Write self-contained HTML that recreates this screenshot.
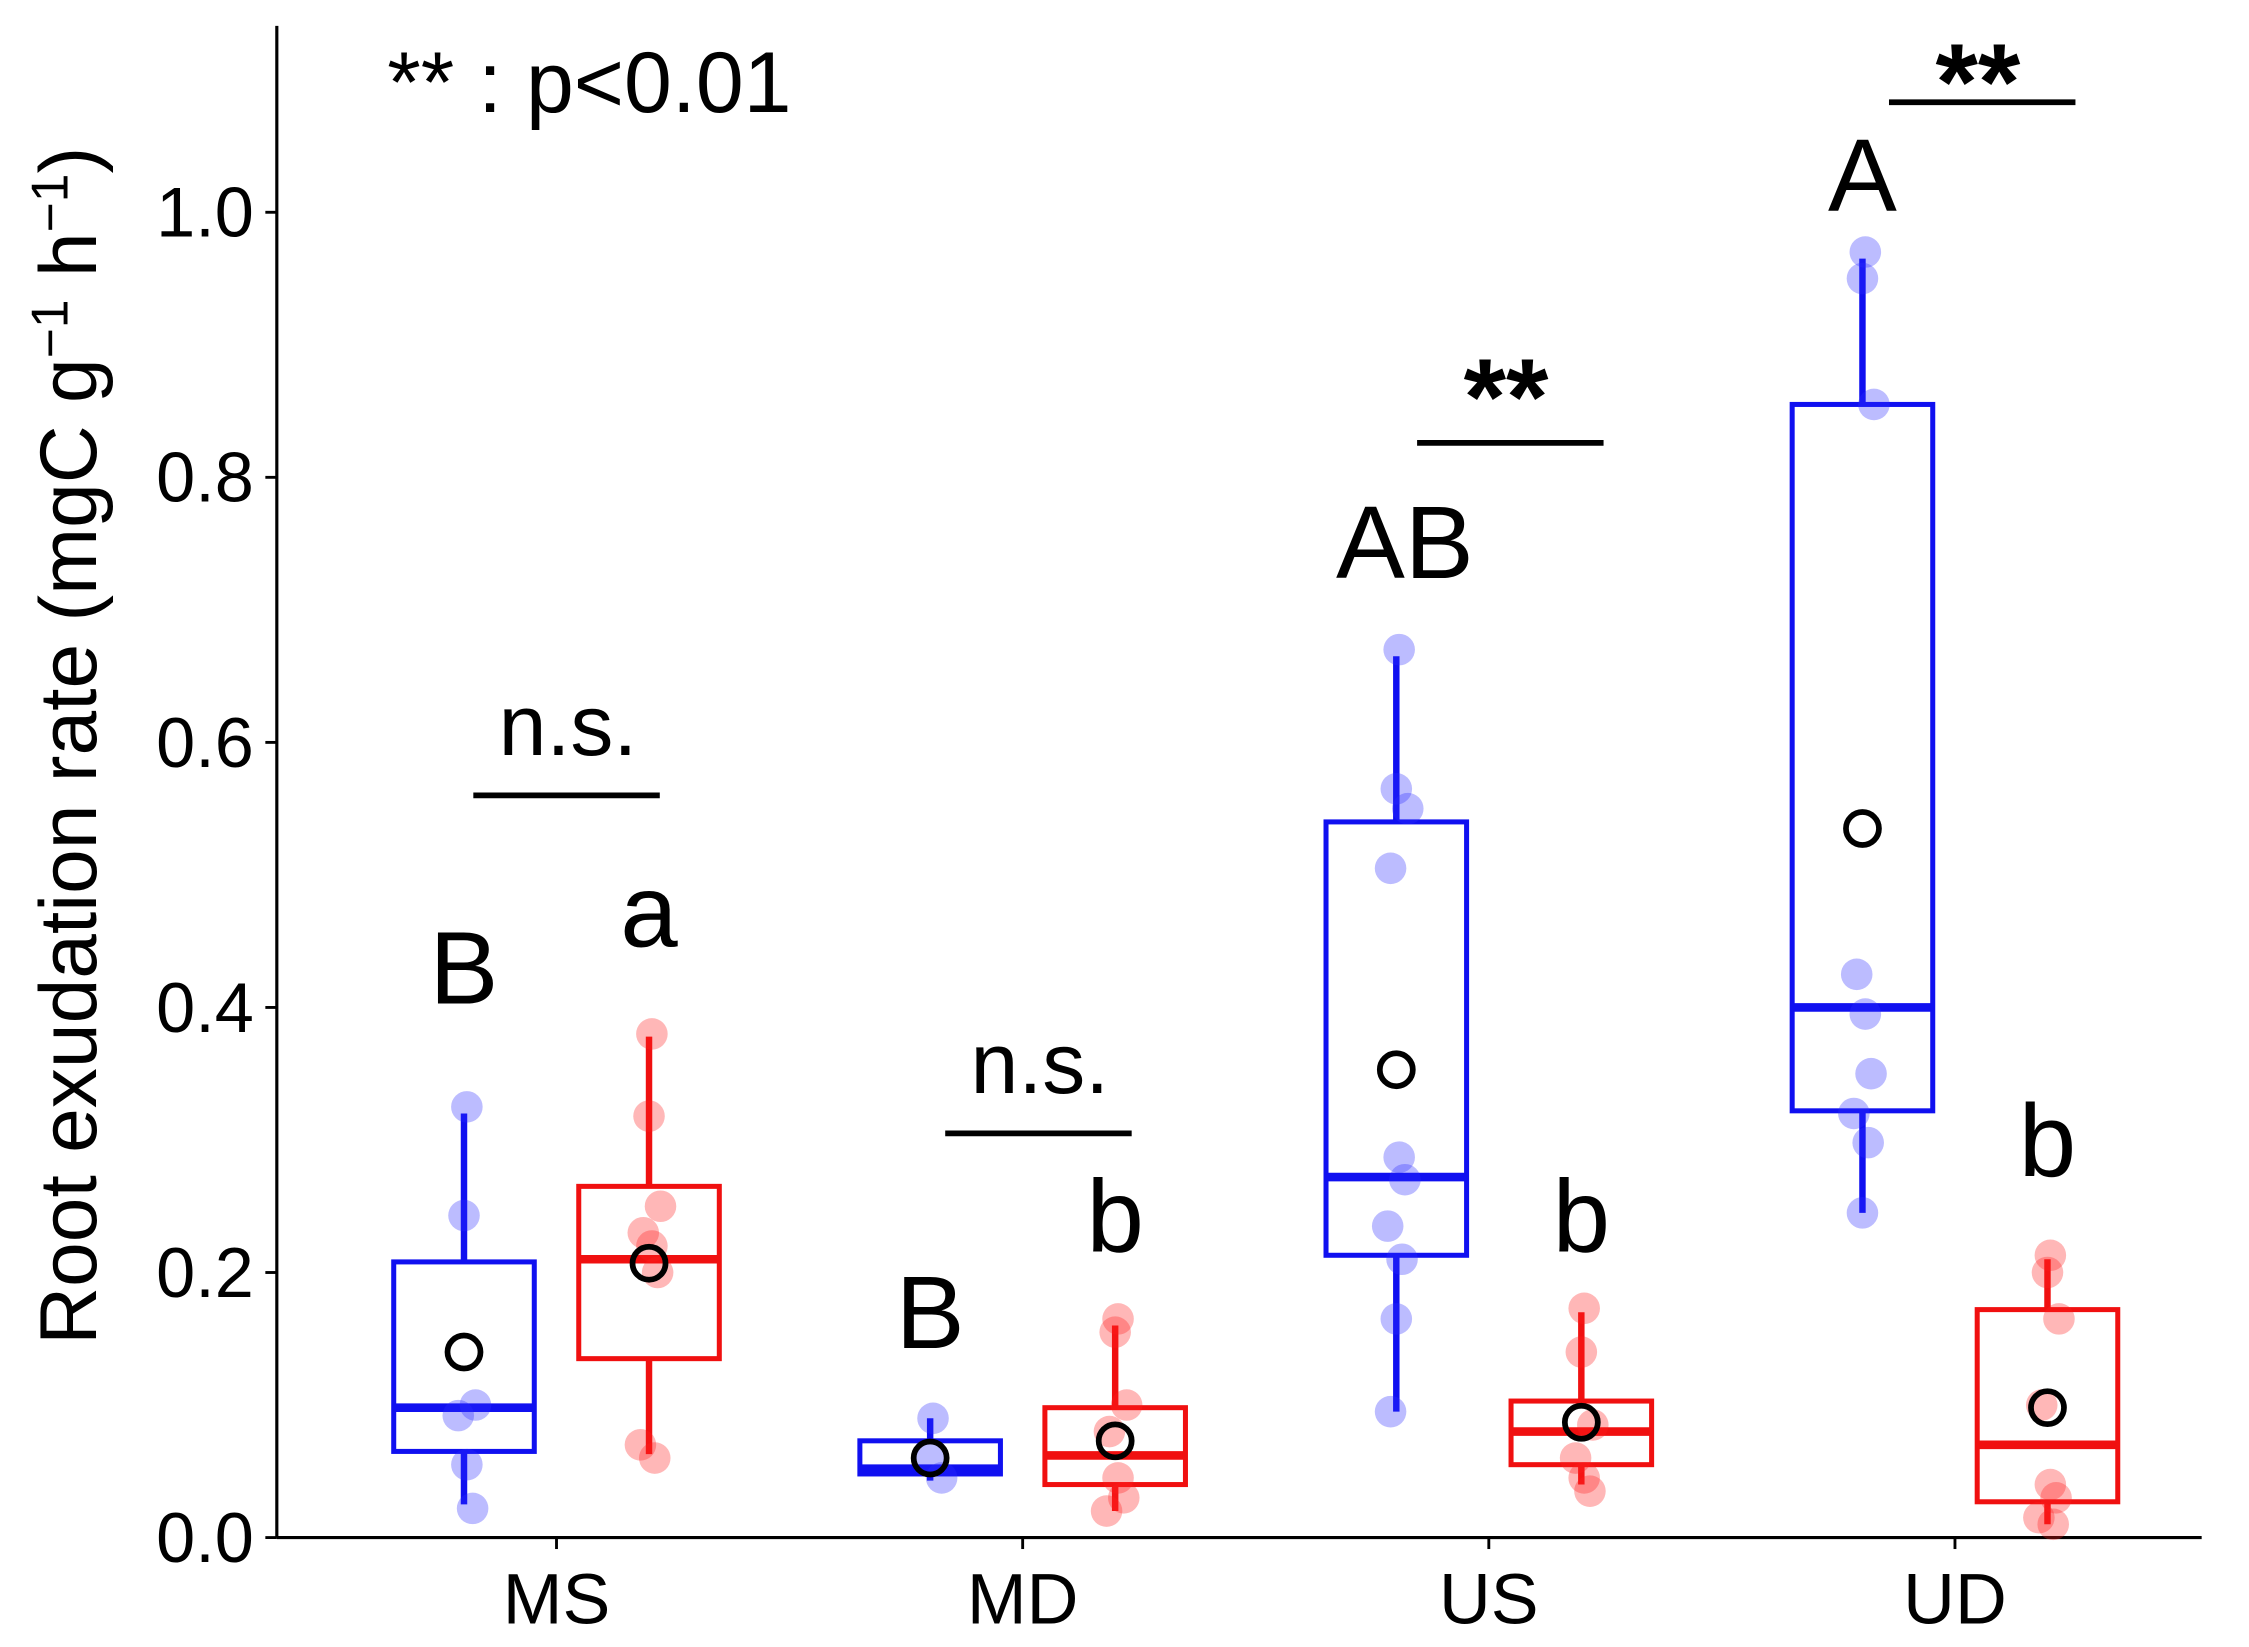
<!DOCTYPE html>
<html><head><meta charset="utf-8"><style>
html,body{margin:0;padding:0;background:#fff;}
svg{display:block;font-family:"Liberation Sans",Arial,sans-serif;}
</style></head><body>
<svg id="chart" width="2249" height="1647" viewBox="0 0 1568 1148.3" preserveAspectRatio="none" xmlns="http://www.w3.org/2000/svg">
<g id="axes"></g>
<g id="marks"></g>
<g id="annot"></g>
</svg>
<script>
const categories = ["MS","MD","US","UD"];
const yTicks = [0,0.2,0.4,0.6,0.8,1.0];
const yTickLabels = ["0.0","0.2","0.4","0.6","0.8","1.0"];
// [whiskerLow, q1, median, q3, whiskerHigh, mean]
const blueStats = [[0.025,0.065,0.098,0.208,0.32,0.14],[0.043,0.048,0.052,0.073,0.09,0.06],[0.095,0.213,0.272,0.54,0.665,0.353],[0.245,0.322,0.4,0.855,0.965,0.535]];
const redStats = [[0.063,0.135,0.21,0.265,0.378,0.207],[0.02,0.04,0.062,0.098,0.16,0.073],[0.04,0.055,0.08,0.103,0.17,0.087],[0.01,0.027,0.07,0.172,0.21,0.098]];
const bluePoints = [[0.325,0.243,0.1,0.092,0.055,0.022],[0.09,0.06,0.045],[0.67,0.565,0.55,0.505,0.287,0.27,0.235,0.21,0.165,0.095],[0.97,0.95,0.855,0.425,0.395,0.35,0.32,0.298,0.245]];
const redPoints = [[0.38,0.318,0.25,0.23,0.22,0.2,0.07,0.06],[0.165,0.155,0.1,0.08,0.045,0.03,0.02],[0.173,0.14,0.085,0.06,0.045,0.035],[0.213,0.2,0.165,0.1,0.04,0.03,0.015,0.01]];
const blueLetters = ["B","B","AB","A"];
const redLetters = ["a","b","b","b"];
const blueLetterLevels = [0.403,0.143,0.724,1.001];
const redLetterLevels = [0.446,0.216,0.216,0.273];
const sigLabels = ["n.s.","n.s.","**","**"];
const sigLevels = [0.56,0.305,0.826,1.083];

const NS="http://www.w3.org/2000/svg";
const X0=193, X1=1535, Y0=1072, YTOP=18;
const y = v => Y0 - v*924;
const x = i => 388 + i*325;
const DODGE=64.5, BW=98;
function el(parent,tag,attrs){const e=document.createElementNS(NS,tag);for(const k in attrs)e.setAttribute(k,attrs[k]);parent.appendChild(e);return e;}
const axes=document.getElementById('axes'), marks=document.getElementById('marks'), annot=document.getElementById('annot');

let a=el(axes,'line',{x1:X0,y1:YTOP,x2:X0,y2:Y0,stroke:'#000','stroke-width':2.2});

a=el(axes,'line',{x1:X0,y1:Y0,x2:X1,y2:Y0,stroke:'#000','stroke-width':2.2});

yTicks.forEach((v,i)=>{
  const t=el(axes,'line',{x1:X0-8,y1:y(v),x2:X0,y2:y(v),stroke:'#000','stroke-width':2});
  
  const l=el(axes,'text',{x:X0-16,y:y(v)+17,'text-anchor':'end','font-size':49,fill:'#000'});
  l.textContent=yTickLabels[i];
  
});
categories.forEach((c,i)=>{
  const t=el(axes,'line',{x1:x(i),y1:Y0,x2:x(i),y2:Y0+8,stroke:'#000','stroke-width':2});
  
  const l=el(axes,'text',{x:x(i),y:Y0+60,'text-anchor':'middle','font-size':50,fill:'#000'});
  l.textContent=c;
  
});
const yt=el(axes,'text',{x:0,y:0,'text-anchor':'middle','font-size':56,fill:'#000',transform:'translate(67,520) rotate(-90)'});
yt.innerHTML='Root exudation rate (mgC g<tspan dy="-20" font-size="36">−1</tspan><tspan dy="20"> h</tspan><tspan dy="-20" font-size="36">−1</tspan><tspan dy="20">)</tspan>';


const jitter=[2,0,8,-4,2,6,-6,4,0,-4];
function drawBox(cx,s,pts,color,fillPt,name){
  const g=el(marks,'g',{});
  
  let w=el(g,'line',{x1:cx,y1:y(s[0]),x2:cx,y2:y(s[4]),stroke:color,'stroke-width':4.5});
  
  let r=el(g,'rect',{x:cx-BW/2,y:y(s[3]),width:BW,height:y(s[1])-y(s[3]),fill:'#fff',stroke:color,'stroke-width':3.5});
  
  let m=el(g,'line',{x1:cx-BW/2,y1:y(s[2]),x2:cx+BW/2,y2:y(s[2]),stroke:color,'stroke-width':6});
  
  pts.forEach((v,k)=>{
    const p=el(g,'circle',{cx:cx+jitter[k%jitter.length],cy:y(v),r:11,fill:fillPt,'fill-opacity':0.32});
    
  });
  const mn=el(g,'circle',{cx:cx,cy:y(s[5]),r:11.5,fill:'none',stroke:'#000','stroke-width':4});
  
}
categories.forEach((c,i)=>{
  drawBox(x(i)-DODGE,blueStats[i],bluePoints[i],'#1010f0','#3030ff','box-blue-'+c.toLowerCase());
  drawBox(x(i)+DODGE,redStats[i],redPoints[i],'#f01010','#ff2020','box-red-'+c.toLowerCase());
  const lb=el(annot,'text',{x:x(i)-DODGE+(i==2?6:0),y:y(blueLetterLevels[i]),'text-anchor':'middle','font-size':72,fill:'#000'});
  lb.textContent=blueLetters[i];
  
  const lr=el(annot,'text',{x:x(i)+DODGE,y:y(redLetterLevels[i]),'text-anchor':'middle','font-size':72,fill:'#000'});
  lr.textContent=redLetters[i];
  
  const sx=x(i)-58+i*4;
  const sb=el(annot,'line',{x1:sx,y1:y(sigLevels[i]),x2:sx+130,y2:y(sigLevels[i]),stroke:'#000','stroke-width':4});
  
  const star=sigLabels[i]=='**';
  const dy = star ? (i==2 ? -6 : 12) : -28;
  const st=el(annot,'text',{x:sx+(star?62:66),y:y(sigLevels[i])+dy,'text-anchor':'middle','font-size':star?76:60,'font-weight':star?'bold':'normal',fill:'#000'});
  st.textContent=sigLabels[i];
  
});
const note=el(annot,'text',{x:270,y:78,'font-size':60,fill:'#000'});
note.textContent='** : p<0.01';

</script>
</body></html>
